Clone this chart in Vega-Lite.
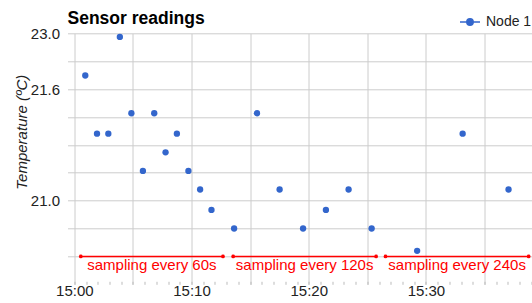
{
  "$schema": "https://vega.github.io/schema/vega-lite/v6.json",
  "width": 464.5,
  "height": 251,
  "autosize": {"type": "none"},
  "padding": {"left": 67.5, "top": 33.3, "right": 0, "bottom": 18.7},
  "config": {
    "font": "Liberation Sans",
    "view": {"stroke": null},
    "axis": {"gridColor": "#cccccc", "gridWidth": 1, "labelColor": "#222222", "labelFont": "Liberation Sans", "titleColor": "#222222"}
  },
  "title": {"text": "Sensor readings", "anchor": "start", "frame": "group", "fontSize": 17.5, "fontWeight": "bold", "color": "#000000", "font": "Liberation Sans", "offset": -16},
  "datasets": {
    "readings": [
      {"time": "2024-01-01T15:00:56Z", "temp": 21.94, "series": "Node 1"},
      {"time": "2024-01-01T15:01:56Z", "temp": 21.36, "series": "Node 1"},
      {"time": "2024-01-01T15:02:54Z", "temp": 21.36, "series": "Node 1"},
      {"time": "2024-01-01T15:03:53Z", "temp": 22.91, "series": "Node 1"},
      {"time": "2024-01-01T15:04:52Z", "temp": 21.47, "series": "Node 1"},
      {"time": "2024-01-01T15:05:51Z", "temp": 21.16, "series": "Node 1"},
      {"time": "2024-01-01T15:06:49Z", "temp": 21.47, "series": "Node 1"},
      {"time": "2024-01-01T15:07:47Z", "temp": 21.26, "series": "Node 1"},
      {"time": "2024-01-01T15:08:45Z", "temp": 21.36, "series": "Node 1"},
      {"time": "2024-01-01T15:09:44Z", "temp": 21.16, "series": "Node 1"},
      {"time": "2024-01-01T15:10:44Z", "temp": 21.06, "series": "Node 1"},
      {"time": "2024-01-01T15:11:42Z", "temp": 20.95, "series": "Node 1"},
      {"time": "2024-01-01T15:13:38Z", "temp": 20.85, "series": "Node 1"},
      {"time": "2024-01-01T15:15:35Z", "temp": 21.47, "series": "Node 1"},
      {"time": "2024-01-01T15:17:31Z", "temp": 21.06, "series": "Node 1"},
      {"time": "2024-01-01T15:19:31Z", "temp": 20.85, "series": "Node 1"},
      {"time": "2024-01-01T15:21:28Z", "temp": 20.95, "series": "Node 1"},
      {"time": "2024-01-01T15:23:24Z", "temp": 21.06, "series": "Node 1"},
      {"time": "2024-01-01T15:25:22Z", "temp": 20.85, "series": "Node 1"},
      {"time": "2024-01-01T15:29:15Z", "temp": 20.73, "series": "Node 1"},
      {"time": "2024-01-01T15:33:08Z", "temp": 21.36, "series": "Node 1"},
      {"time": "2024-01-01T15:37:03Z", "temp": 21.06, "series": "Node 1"}
    ],
    "spans": [
      {"start": "2024-01-01T15:00:33Z", "end": "2024-01-01T15:12:41Z", "label": "sampling every 60s", "level": 20.7},
      {"start": "2024-01-01T15:13:33Z", "end": "2024-01-01T15:25:45Z", "label": "sampling every 120s", "level": 20.7},
      {"start": "2024-01-01T15:26:33Z", "end": "2024-01-01T15:38:46Z", "label": "sampling every 240s", "level": 20.7}
    ]
  },
  "layer": [
    {
      "data": {"name": "readings"},
      "mark": {"type": "point", "filled": true, "size": 40, "opacity": 1},
      "encoding": {
        "x": {
          "field": "time", "type": "temporal",
          "scale": {"type": "utc", "domain": [1704121165000, 1704123543000], "nice": false},
          "axis": {
            "title": null,
            "tickCount": 100,
            "values": [1704121200000, 1704121260000, 1704121320000, 1704121380000, 1704121440000, 1704121500000, 1704121560000, 1704121620000, 1704121680000, 1704121740000, 1704121800000, 1704121860000, 1704121920000, 1704121980000, 1704122040000, 1704122100000, 1704122160000, 1704122220000, 1704122280000, 1704122340000, 1704122400000, 1704122460000, 1704122520000, 1704122580000, 1704122640000, 1704122700000, 1704122760000, 1704122820000, 1704122880000, 1704122940000, 1704123000000, 1704123060000, 1704123120000, 1704123180000, 1704123240000, 1704123300000, 1704123360000, 1704123420000, 1704123480000, 1704123540000],
            "labelExpr": "(datum.value - 1704121200000) % 600000 === 0 ? utcFormat(datum.value, '%H:%M') : ''",
            "grid": true,
            "gridOpacity": {"condition": {"test": "(datum.value - 1704121200000) % 300000 === 0", "value": 1}, "value": 0},
            "domain": false,
            "ticks": true,
            "tickSize": -3,
            "tickColor": "#bbbbbb",
            "labelPadding": 2,
            "labelFontSize": 15,
            "labelFlush": false,
            "labelOverlap": false
          }
        },
        "y": {
          "field": "temp", "type": "quantitative",
          "scale": {"type": "linear", "domain": [20.55, 21.0, 21.6, 23.0], "range": [251, 167.333, 55.778, 0], "zero": false, "nice": false},
          "axis": {
            "title": "Temperature (ºC)",
            "values": [23, 22.3, 21.6, 21.45, 21.3, 21.15, 21.0, 20.85, 20.7],
            "tickCount": 100,
            "labelExpr": "datum.value === 23 || datum.value === 21.6 || datum.value === 21 ? format(datum.value, '.1f') : ''",
            "ticks": false,
            "domain": false,
            "labelPadding": 8,
            "labelFontSize": 15,
            "labelFlush": false,
            "labelOverlap": false,
            "titleFontStyle": "italic",
            "titleFontWeight": "normal",
            "titleFontSize": 15,
            "titleX": -46.5,
            "titleY": 98.4,
            "titleAngle": -90,
            "titleAlign": "center",
            "titleBaseline": "middle"
          }
        },
        "color": {
          "field": "series", "type": "nominal",
          "scale": {"range": ["#3366cc"]},
          "legend": {
            "title": null,
            "orient": "none",
            "legendX": 391.5,
            "legendY": -22.3,
            "padding": 0,
            "symbolType": "M-1,0L1,0M-0.32,0A0.32,0.32 0 1,0 0.32,0A0.32,0.32 0 1,0 -0.32,0Z",
            "symbolSize": 400,
            "symbolStrokeWidth": 1.5,
            "symbolStrokeColor": "#3366cc",
            "symbolFillColor": "#3366cc",
            "symbolOpacity": 1,
            "labelFontSize": 14,
            "labelOffset": 5,
            "labelColor": "#222222",
            "labelFont": "Liberation Sans"
          }
        }
      }
    },
    {
      "data": {"name": "spans"},
      "mark": {"type": "rule", "color": "#ff0000", "strokeWidth": 1.5},
      "encoding": {
        "x": {"field": "start", "type": "temporal"},
        "x2": {"field": "end"},
        "y": {"field": "level", "type": "quantitative"}
      }
    },
    {
      "data": {"name": "spans"},
      "mark": {"type": "point", "filled": true, "shape": "circle", "size": 14, "color": "#ff0000", "opacity": 1},
      "encoding": {
        "x": {"field": "start", "type": "temporal"},
        "y": {"field": "level", "type": "quantitative"}
      }
    },
    {
      "data": {"name": "spans"},
      "mark": {"type": "point", "filled": true, "shape": "circle", "size": 14, "color": "#ff0000", "opacity": 1},
      "encoding": {
        "x": {"field": "end", "type": "temporal"},
        "y": {"field": "level", "type": "quantitative"}
      }
    },
    {
      "data": {"name": "spans"},
      "transform": [{"calculate": "(time(toDate(datum.start)) + time(toDate(datum.end))) / 2", "as": "mid"}],
      "mark": {"type": "text", "color": "#ff0000", "fontSize": 15, "font": "Liberation Sans", "align": "center", "baseline": "alphabetic", "dy": 13.5},
      "encoding": {
        "x": {"field": "mid", "type": "temporal"},
        "y": {"field": "level", "type": "quantitative"},
        "text": {"field": "label"}
      }
    }
  ]
}
